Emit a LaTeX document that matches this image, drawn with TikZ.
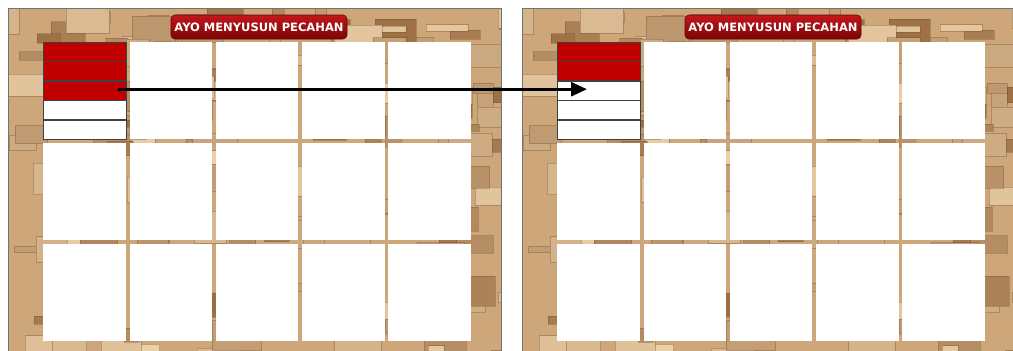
\documentclass[tikz,border=0pt]{standalone}
\usepackage{fontspec}
\newfontfamily\badgefont{DejaVu Sans}
\usetikzlibrary{arrows.meta,calc,positioning}
\definecolor{woodbase}{HTML}{CDA679}
\definecolor{wooddark}{HTML}{9C6E44}
\definecolor{woodlight}{HTML}{EBD0A8}
\definecolor{fracred}{HTML}{C00000}
\definecolor{badgetop}{HTML}{C3161C}
\definecolor{badgebot}{HTML}{7A0505}

\begin{document}
\begin{tikzpicture}[
  x=1pt, y=-1pt,
  >=Latex,
  board/.style={draw=black!55, line width=0.8pt},
  block/.style={draw=wooddark!70!black, draw opacity=0.35, line width=0.4pt},
  cell/.style={fill=white, minimum width=82.5pt, minimum height=97pt, inner sep=0pt, anchor=north west},
  strip/.style={minimum width=82.5pt, minimum height=19.4pt, inner sep=0pt, anchor=north west},
  stripline/.style={draw=black!75, line width=0.7pt},
  badge/.style={rounded corners=4pt, top color=badgetop, bottom color=badgebot, draw=badgebot!80!black,
    line width=0.6pt, text=white, font=\badgefont\bfseries\fontsize{11.5}{12}\selectfont,
    minimum width=176pt, minimum height=24pt, inner sep=0pt},
  map/.style={-{Triangle[length=16pt,width=14pt]}, line width=2.6pt}
]
  \useasboundingbox (0,0) rectangle (1013,351);

  % two boards: before and after
  \foreach \p/\dx/\nred in {L/0/3, R/514/2}{
    \begin{scope}[shift={(\dx,0)}]
      % wooden background
      \begin{scope}
        \clip (8,8) rectangle ++(493,345);
        \fill[woodbase] (8,8) rectangle ++(493,345);
        \pgfmathsetseed{42}
        \foreach \k in {1,...,200}{
          \pgfmathsetmacro\bx{rnd*500}
          \pgfmathsetmacro\by{rnd*350}
          \pgfmathsetmacro\bw{10+rnd*40}
          \pgfmathsetmacro\bh{6+rnd*26}
          \pgfmathsetmacro\tone{round(rnd*100)}
          \fill[wooddark!\tone!woodlight, block] (\bx,\by) rectangle ++(\bw,\bh);
        }
      \end{scope}
      \draw[board] (8,8) rectangle ++(493,345);

      % title
      \node[badge] (\p-title) at (259,27) {AYO MENYUSUN PECAHAN};

      % grid of cards
      \foreach \c in {0,...,4}
        \foreach \r in {0,...,2}
          \node[cell] (\p-cell-\c-\r) at ({43+\c*86.3},{42+\r*100.7}) {};

      % fraction strips
      \foreach \i in {1,...,5}{
        \ifnum\i>\nred\def\sfill{white}\else\def\sfill{fracred}\fi
        \node[strip, fill=\sfill] (\p-strip-\i) at (43,{42+(\i-1)*19.4}) {};
      }
      \foreach \i in {1,...,5}
        \draw[stripline] (\p-strip-\i.north west) rectangle (\p-strip-\i.south east);
    \end{scope}
  }

  \coordinate (movefrom) at ($(L-strip-3.east)+(-8,-1.5)$);
  \coordinate (moveto) at ($(R-strip-3.west)+(30,-1.5)$);
  \draw[map] (movefrom) -- (moveto);
\end{tikzpicture}
\end{document}
